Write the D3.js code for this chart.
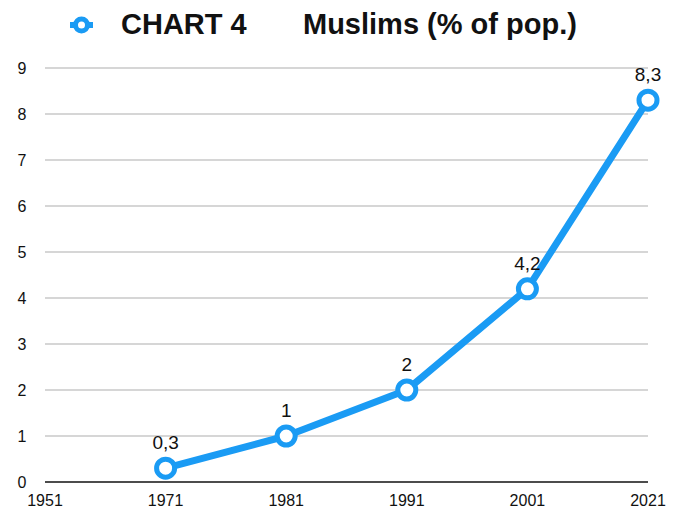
<!DOCTYPE html>
<html>
<head>
<meta charset="utf-8">
<script src="https://cdn.jsdelivr.net/npm/d3@7"></script>
<style>
  body { margin: 0; background: #fff; }
  svg { display: block; font-family: "Liberation Sans", Arial, Helvetica, sans-serif; }
</style>
</head>
<body>
<svg id="chart" width="682" height="511"></svg>
<script>
"use strict";

// data
const years = ["1951", "1971", "1981", "1991", "2001", "2021"];
const pct = [null, 0.3, 1, 2, 4.2, 8.3];
const yTicks = [0, 1, 2, 3, 4, 5, 6, 7, 8, 9];
const titleParts = ["CHART 4", "Muslims (% of pop.)"];

const width = 682, height = 511;
const margin = {top: 68, right: 34, bottom: 29, left: 45};
const blue = "#1a9bf4";

let svg = d3.select("#chart");

let x = d3.scalePoint()
  .domain(years)
  .range([margin.left, width - margin.right]);

let y = d3.scaleLinear()
  .domain([0, 9])
  .range([height - margin.bottom, margin.top]);

// gridlines
svg.append("g")
  .selectAll("line")
  .data(yTicks.filter(d => d > 0))
  .enter()
  .append("line")
    .attr("x1", margin.left)
    .attr("x2", width - margin.right)
    .attr("y1", d => y(d))
    .attr("y2", d => y(d))
    .style("stroke", "#c8c8c8")
    .style("stroke-width", 1.5);

// baseline
svg.append("line")
  .attr("x1", margin.left)
  .attr("x2", width - margin.right)
  .attr("y1", y(0))
  .attr("y2", y(0))
  .style("stroke", "#111")
  .style("stroke-width", 1.5);

// y labels
svg.append("g")
  .selectAll("text")
  .data(yTicks)
  .enter()
  .append("text")
    .attr("x", 22)
    .attr("y", d => y(d))
    .attr("dy", "0.35em")
    .attr("text-anchor", "middle")
    .style("font-size", "16px")
    .style("fill", "#111")
    .text(d => d);

// x labels
svg.append("g")
  .selectAll("text")
  .data(years)
  .enter()
  .append("text")
    .attr("x", d => x(d))
    .attr("y", 506)
    .attr("text-anchor", "middle")
    .style("font-size", "16px")
    .style("fill", "#111")
    .text(d => d);

let points = years.map((yr, i) => ({year: yr, value: pct[i]})).filter(d => d.value != null);

let line = d3.line()
  .x(d => x(d.year))
  .y(d => y(d.value));

svg.append("path")
  .datum(points)
  .attr("d", line)
  .style("fill", "none")
  .style("stroke", blue)
  .style("stroke-width", 7)
  .style("stroke-linejoin", "round");

svg.append("g")
  .selectAll("circle")
  .data(points)
  .enter()
  .append("circle")
    .attr("cx", d => x(d.year))
    .attr("cy", d => y(d.value))
    .attr("r", 9)
    .style("fill", "#fff")
    .style("stroke", blue)
    .style("stroke-width", 5);

// value labels
svg.append("g")
  .selectAll("text")
  .data(points)
  .enter()
  .append("text")
    .attr("x", d => x(d.year))
    .attr("y", d => y(d.value) - 19)
    .attr("text-anchor", "middle")
    .style("font-size", "19px")
    .style("fill", "#111")
    .text(d => String(d.value).replace(".", ","));

// legend / title
let legend = svg.append("g");
legend.append("line")
  .attr("x1", 70).attr("x2", 93)
  .attr("y1", 25).attr("y2", 25)
  .style("stroke", blue)
  .style("stroke-width", 6);
legend.append("circle")
  .attr("cx", 81.5).attr("cy", 25).attr("r", 6)
  .style("fill", "#fff")
  .style("stroke", blue)
  .style("stroke-width", 5);
legend.selectAll("text")
  .data(titleParts)
  .enter()
  .append("text")
    .attr("x", (d, i) => i === 0 ? 121 : 303)
    .attr("y", 34)
    .style("font-size", "29px")
    .style("font-weight", "bold")
    .style("fill", "#111")
    .text(d => d);
</script>
</body>
</html>
